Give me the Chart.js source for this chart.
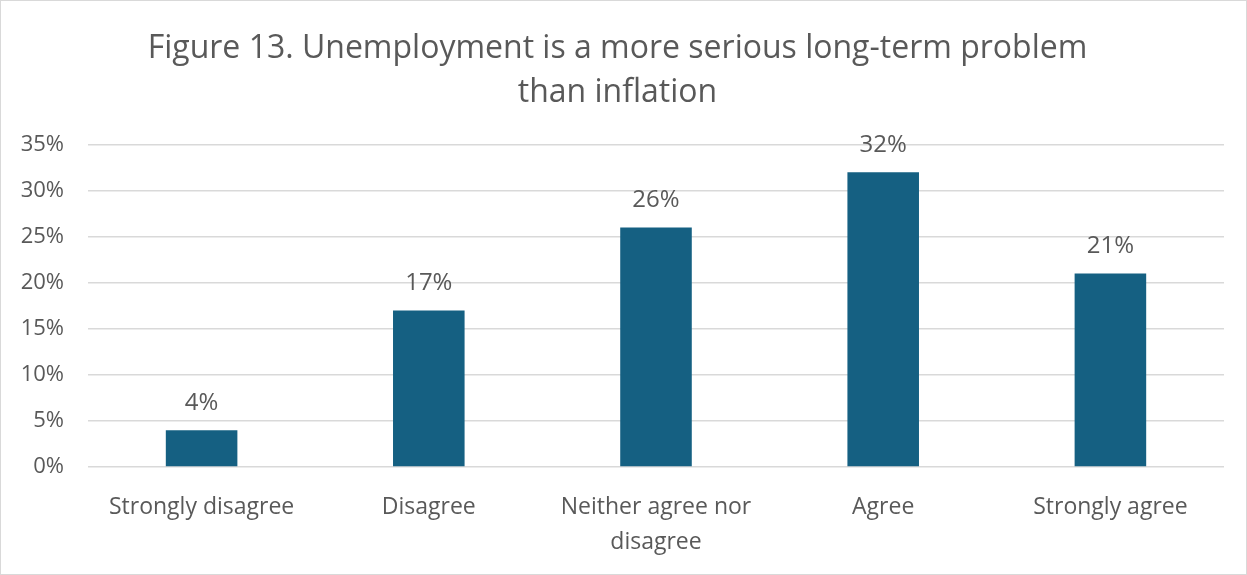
<!DOCTYPE html>
<html>
<head>
<meta charset="utf-8">
<script src="https://cdn.jsdelivr.net/npm/chart.js@4.4.1/dist/chart.umd.min.js"></script>
<style>
  html, body { margin: 0; padding: 0; background: #fff; }
  #wrap { position: relative; width: 1247px; height: 575px; box-sizing: border-box; border: 1px solid #d9d9d9; }
</style>
</head>
<body>
<div id="wrap"><canvas id="chart"></canvas></div>
<script>
// answers and share of respondents (%)
var answers = ["Strongly disagree", "Disagree", ["Neither agree nor", "disagree"], "Agree", "Strongly agree"];
var shares = [4, 17, 26, 32, 21];
var titleLines = ["Figure 13. Unemployment is a more serious long-term problem", "than inflation"];

var textColor = "#595959";
var fontName = "'Open Sans', 'Liberation Sans', sans-serif";

// draws the value above each bar
var barLabels = {
    id: "barLabels",
    afterDatasetsDraw: function(chart) {
        var ctx = chart.ctx;
        var meta = chart.getDatasetMeta(0);
        ctx.save();
        ctx.fillStyle = textColor;
        ctx.font = "24px " + fontName;
        ctx.textAlign = "center";
        ctx.textBaseline = "middle";
        meta.data.forEach(function(bar, i) {
            ctx.fillText(shares[i] + "%", bar.x, bar.y - 27);
        });
        ctx.restore();
    }
};

Chart.defaults.font.family = fontName;
Chart.defaults.color = textColor;

var ctx = document.getElementById("chart").getContext("2d");
var chart = new Chart(ctx, {
    type: "bar",
    data: {
        labels: answers,
        datasets: [{
            data: shares,
            backgroundColor: "#156082",
            barPercentage: 0.63,
            categoryPercentage: 0.5
        }]
    },
    options: {
        responsive: true,
        maintainAspectRatio: false,
        animation: false,
        layout: { padding: { left: 10, right: 22, top: 25, bottom: 0 } },
        scales: {
            y: {
                min: 0,
                max: 35,
                afterFit: function(scale) { scale.width = 77; },
                ticks: {
                    stepSize: 5,
                    padding: 24,
                    font: { size: 22 },
                    callback: function(v) { return v + "%"; }
                },
                grid: { color: "#d9d9d9", lineWidth: 1.5, drawTicks: false },
                border: { display: false }
            },
            x: {
                afterFit: function(scale) { scale.height = 107; },
                ticks: { font: { size: 23, lineHeight: 1.52 }, padding: 15, maxRotation: 0 },
                grid: { display: false },
                border: { display: false }
            }
        },
        plugins: {
            legend: { display: false },
            tooltip: { enabled: false },
            title: {
                display: true,
                text: titleLines,
                color: textColor,
                font: { size: 32, weight: "normal", lineHeight: 1.4 },
                padding: { top: 0, bottom: 29 }
            }
        }
    },
    plugins: [barLabels]
});
</script>
</body>
</html>
